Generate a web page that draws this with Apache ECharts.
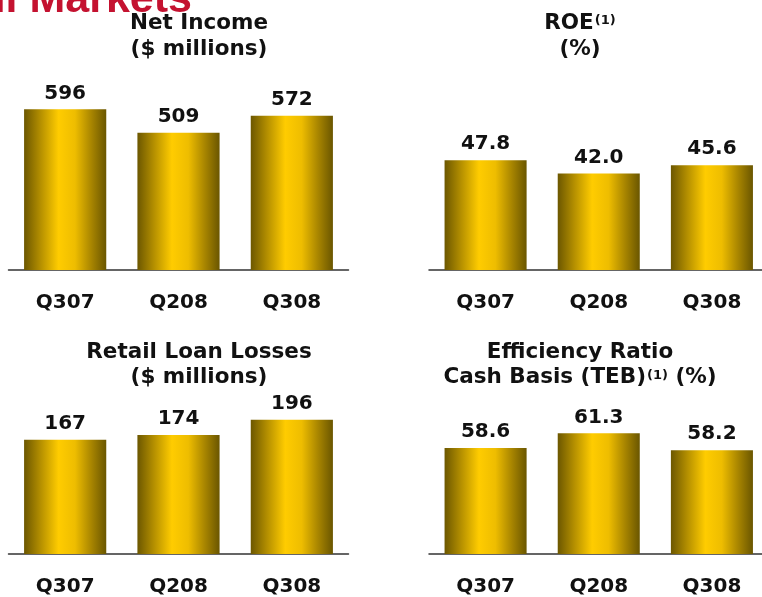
<!DOCTYPE html>
<html>
<head>
<meta charset="utf-8">
<script src="https://cdn.jsdelivr.net/npm/echarts@6/dist/echarts.min.js"></script>
<style>
html,body{margin:0;padding:0;background:#fff;overflow:hidden;}
#chart{width:780px;height:597px;}
</style>
</head>
<body>
<div id="chart"></div>
<script>
const categories = ['Q307', 'Q208', 'Q308'];
const netIncome = [596, 509, 572];
const roe = [47.8, 42.0, 45.6];
const retailLoanLosses = [167, 174, 196];
const efficiencyRatio = [58.6, 61.3, 58.2];
const valueLabels = [
  ['596', '509', '572'],
  ['47.8', '42.0', '45.6'],
  ['167', '174', '196'],
  ['58.6', '61.3', '58.2']
];
const titles = [
  'Net Income\n($ millions)',
  'ROE{s|(1)}\n(%)',
  'Retail Loan Losses\n($ millions)',
  'Efficiency Ratio\nCash Basis (TEB){s|(1)} (%)'
];
const heading = 'CIBC Retail Markets';

const FONT = '"DejaVu Sans", Verdana, sans-serif';
const barColor = new echarts.graphic.LinearGradient(0, 0, 1, 0, [
  {offset: 0, color: '#6c5700'},
  {offset: 0.2, color: '#b48f00'},
  {offset: 0.42, color: '#ffcc00'},
  {offset: 0.62, color: '#eebd00'},
  {offset: 0.82, color: '#a88500'},
  {offset: 1, color: '#6a5600'}
]);

const grids = [
  {left: 8.5, width: 340, top: 60, height: 210},
  {left: 429, width: 339.5, top: 60, height: 210},
  {left: 8.5, width: 340, top: 400, height: 157},
  {left: 429, width: 339.5, top: 400, height: 157}
];
const yRanges = [[0, 779], [0, 91.4], [0, 225], [39.2, 67.4]];
const dataSets = [netIncome, roe, retailLoanLosses, efficiencyRatio];
const titlePos = [[199, 10, 26], [580, 10, 26], [199, 340, 25], [580, 340, 25]];

const chart = echarts.init(document.getElementById('chart'), null, {renderer: 'canvas'});
chart.setOption({
  backgroundColor: '#fff',
  animation: false,
  graphic: [{
    type: 'text',
    x: 192,
    y: -21,
    style: {
      text: heading,
      fill: '#c41230',
      align: 'right',
      verticalAlign: 'top',
      font: 'bold 43px "Liberation Sans", Arial, sans-serif'
    }
  }],
  title: titles.map((t, i) => ({
    text: t,
    left: titlePos[i][0],
    top: titlePos[i][1],
    textAlign: 'center',
    padding: 0,
    textStyle: {
      fontFamily: FONT,
      fontWeight: 'bold',
      fontSize: 21.5,
      color: '#111',
      lineHeight: titlePos[i][2],
      rich: {
        s: {fontFamily: FONT, fontWeight: 'bold', fontSize: 13, color: '#111', verticalAlign: 'top', lineHeight: 16, padding: [4, 0, 0, 1]}
      }
    }
  })),
  grid: grids,
  xAxis: grids.map((g, i) => ({
    type: 'category',
    gridIndex: i,
    data: categories,
    axisTick: {show: false},
    axisLine: {lineStyle: {color: '#333', width: 1.5}},
    axisLabel: {
      margin: 23,
      fontFamily: FONT,
      fontWeight: 'bold',
      fontSize: 20,
      color: '#111'
    }
  })),
  yAxis: grids.map((g, i) => ({
    type: 'value',
    gridIndex: i,
    min: yRanges[i][0],
    max: yRanges[i][1],
    show: false,
    splitLine: {show: false}
  })),
  series: dataSets.map((d, i) => ({
    type: 'bar',
    xAxisIndex: i,
    yAxisIndex: i,
    data: d,
    barWidth: '72.5%',
    itemStyle: {color: barColor},
    label: {
      show: true,
      position: 'top',
      distance: 6,
      fontFamily: FONT,
      fontWeight: 'bold',
      fontSize: 20,
      color: '#111',
      formatter: p => valueLabels[i][p.dataIndex]
    }
  }))
});
</script>
</body>
</html>
